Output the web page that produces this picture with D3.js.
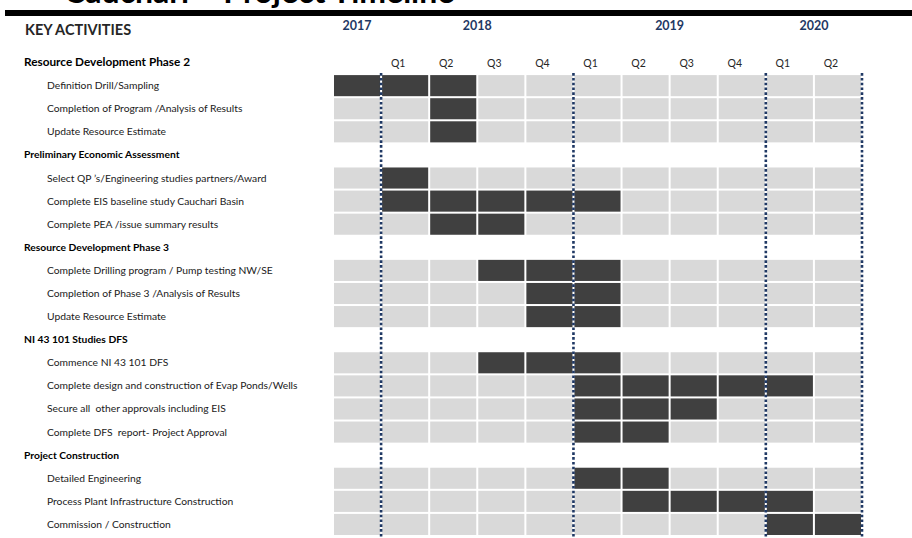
<!DOCTYPE html>
<html>
<head>
<meta charset="utf-8">
<script src="https://cdn.jsdelivr.net/npm/d3@7"></script>
<style>
  html, body { margin: 0; padding: 0; background: #fff; }
  svg { display: block; font-family: Lato, "Open Sans", sans-serif; }
</style>
</head>
<body>
<script>
// quarters are counted from Q1 2018 (= 0); 2017 Q4 = -1
const years = ['2017', '2018', '2019', '2020'];
const yearStart = [-1, 0, 4, 8];
const yearEnd = [0, 4, 8, 10];
const quarterLabels = ['Q1', 'Q2', 'Q3', 'Q4', 'Q1', 'Q2', 'Q3', 'Q4', 'Q1', 'Q2'];
const yearMarkers = [0, 4, 8, 10];

const groups = [
  'Resource Development Phase 2',
  'Preliminary Economic Assessment',
  'Resource Development Phase 3',
  'NI 43 101 Studies DFS',
  'Project Construction'
];

const tasks = [
  { group: 0, name: 'Definition Drill/Sampling', start: -1, end: 2 },
  { group: 0, name: 'Completion of Program /Analysis of Results', start: 1, end: 2 },
  { group: 0, name: 'Update Resource Estimate', start: 1, end: 2 },
  { group: 1, name: 'Select QP \u2019s/Engineering studies partners/Award', start: 0, end: 1 },
  { group: 1, name: 'Complete EIS baseline study Cauchari Basin', start: 0, end: 5 },
  { group: 1, name: 'Complete PEA /issue summary results', start: 1, end: 3 },
  { group: 2, name: 'Complete Drilling program / Pump testing NW/SE', start: 2, end: 5 },
  { group: 2, name: 'Completion of Phase 3 /Analysis of Results', start: 3, end: 5 },
  { group: 2, name: 'Update Resource Estimate', start: 3, end: 5 },
  { group: 3, name: 'Commence NI 43 101 DFS', start: 2, end: 5 },
  { group: 3, name: 'Complete design and construction of Evap Ponds/Wells', start: 4, end: 9 },
  { group: 3, name: 'Secure all  other approvals including EIS', start: 4, end: 7 },
  { group: 3, name: 'Complete DFS  report- Project Approval', start: 4, end: 6 },
  { group: 4, name: 'Detailed Engineering', start: 4, end: 6 },
  { group: 4, name: 'Process Plant Infrastructure Construction', start: 5, end: 9 },
  { group: 4, name: 'Commission / Construction', start: 8, end: 10 }
];

const width = 912, height = 538;
const dark = '#404040', light = '#d9d9d9', navy = '#1f3864';

// flatten groups + tasks into display rows
const rows = [];
groups.forEach((g, gi) => {
  rows.push({ type: 'group', name: g });
  tasks.filter(t => t.group === gi).forEach(t => rows.push({ type: 'task', ...t }));
});

const svg = d3.select('body').append('svg')
  .attr('width', width)
  .attr('height', height);

const x = d3.scaleLinear().domain([-1, 10]).range([333, 862]);
const y = d3.scaleBand()
  .domain(d3.range(rows.length))
  .range([52, 52 + 23 * rows.length])
  .paddingInner(2 / 23)
  .paddingOuter(0);

// slide title, cut off by the top edge in the original, and rule
svg.append('text')
  .attr('x', 64)
  .attr('y', 3)
  .attr('font-size', 32)
  .attr('font-weight', 700)
  .attr('fill', '#000')
  .text('Cauchari \u2013 Project Timeline');

svg.append('rect')
  .attr('x', 5)
  .attr('y', 10)
  .attr('width', width - 5)
  .attr('height', 6)
  .attr('fill', '#000');

// header
svg.append('text')
  .attr('x', 25)
  .attr('y', 35)
  .attr('font-size', 14.5)
  .attr('font-weight', 700)
  .attr('fill', '#262626')
  .text('KEY ACTIVITIES');

svg.append('g')
  .selectAll('text')
  .data(years)
  .join('text')
  .attr('x', (d, i) => x((yearStart[i] + yearEnd[i]) / 2))
  .attr('y', 30)
  .attr('text-anchor', 'middle')
  .attr('font-size', 12.5)
  .attr('font-weight', 700)
  .attr('fill', navy)
  .text(d => d);

svg.append('g')
  .selectAll('text')
  .data(quarterLabels)
  .join('text')
  .attr('x', (d, i) => x(i + 0.5) - 7)
  .attr('y', y(0) + y.bandwidth() / 2 + 4)
  .attr('text-anchor', 'middle')
  .attr('font-size', 10.5)
  .attr('fill', '#262626')
  .text(d => d);

// row labels (first group sits in the quarter header row, slightly larger)
svg.append('g')
  .selectAll('text')
  .data(rows)
  .join('text')
  .attr('x', d => d.type === 'group' ? 24 : 47)
  .attr('y', (d, i) => y(i) + y.bandwidth() / 2 + 3.5)
  .attr('font-size', (d, i) => i === 0 ? 11.8 : 10.3)
  .attr('font-weight', d => d.type === 'group' ? 700 : 400)
  .attr('fill', d => d.type === 'group' ? '#000' : '#1a1a1a')
  .style('white-space', 'pre')
  .text(d => d.name);

// quarter cells per task row
const quarters = d3.range(-1, 10);
const cellRows = svg.append('g')
  .selectAll('g')
  .data(rows.map((r, i) => ({ ...r, index: i })).filter(r => r.type === 'task'))
  .join('g')
  .attr('transform', d => `translate(0, ${y(d.index)})`);

cellRows.selectAll('rect')
  .data(d => quarters.map(q => ({ q, on: q >= d.start && q < d.end })))
  .join('rect')
  .attr('x', d => x(d.q) + 1)
  .attr('y', 0)
  .attr('width', d => x(d.q + 1) - x(d.q) - 2)
  .attr('height', y.bandwidth())
  .attr('fill', d => d.on ? dark : light);

// dotted year markers
svg.append('g')
  .selectAll('line')
  .data(yearMarkers)
  .join('line')
  .attr('x1', d => x(d))
  .attr('x2', d => x(d))
  .attr('y1', y(1) - 2)
  .attr('y2', height)
  .attr('stroke', navy)
  .attr('stroke-width', 2.6)
  .attr('stroke-dasharray', '2.6,2.2');
</script>
</body>
</html>
